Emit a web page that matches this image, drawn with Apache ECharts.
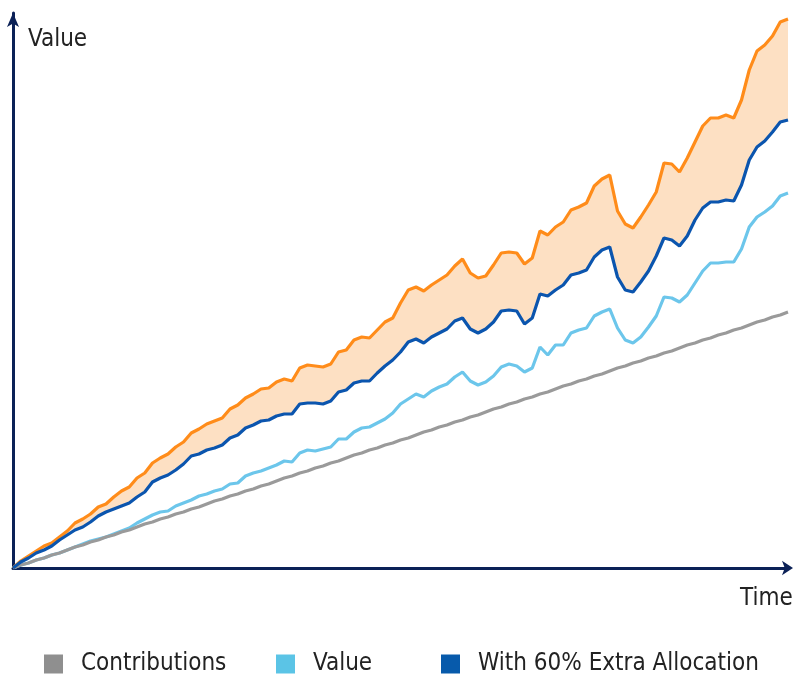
<!DOCTYPE html>
<html>
<head>
<meta charset="utf-8">
<title>Value over time</title>
<script src="https://cdn.jsdelivr.net/npm/echarts@6/dist/echarts.min.js"></script>
<style>
  html, body { margin: 0; padding: 0; background: #fff; }
  #chart { width: 799px; height: 674px; }
</style>
</head>
<body>
<div id="chart"></div>
<script>
// values (same arbitrary unit for every series)
const contributions = [0, 3, 5, 8, 10, 13, 15, 18, 21, 23, 26, 28, 31, 33, 36, 38, 41, 44, 46, 49,
  51, 54, 56, 59, 61, 64, 67, 69, 72, 74, 77, 79, 82, 84, 87, 90, 92, 95, 97, 100,
  102, 105, 107, 110, 113, 115, 118, 120, 123, 125, 128, 130, 133, 136, 138, 141, 143, 146, 148, 151,
  153, 156, 159, 161, 164, 166, 169, 171, 174, 176, 179, 182, 184, 187, 189, 192, 194, 197, 200, 202,
  205, 207, 210, 212, 215, 217, 220, 223, 225, 228, 230, 233, 235, 238, 240, 243, 246, 248, 251, 253, 256];

const value = [0, 3, 5, 8, 10, 13, 15, 18, 21, 24, 27, 29, 31, 34, 37, 40, 45, 49, 53, 56,
  57, 62, 65, 68, 72, 74, 77, 79, 84, 85, 92, 95, 97, 100, 103, 107, 106, 115, 118, 117,
  119, 121, 129, 129, 136, 140, 141, 145, 149, 155, 164, 169, 174, 171, 177, 181, 184, 191, 196, 187,
  183, 186, 192, 201, 204, 202, 196, 200, 221, 213, 223, 223, 235, 238, 240, 252, 256, 259, 240, 228,
  225, 231, 241, 252, 271, 270, 266, 273, 285, 297, 305, 305, 306, 306, 319, 341, 351, 356, 362, 372, 375];

const extraAllocation = [0, 6, 10, 15, 18, 22, 28, 33, 38, 41, 46, 52, 56, 59, 62, 65, 71, 76, 86, 90,
  93, 98, 104, 112, 114, 118, 120, 123, 130, 133, 140, 143, 147, 148, 152, 154, 154, 164, 165, 165,
  164, 167, 176, 178, 185, 187, 187, 195, 202, 208, 216, 226, 229, 225, 231, 235, 239, 247, 250, 239,
  235, 239, 246, 257, 258, 257, 244, 250, 274, 272, 278, 283, 293, 295, 298, 311, 318, 321, 291, 278,
  276, 286, 297, 312, 330, 328, 322, 332, 348, 360, 366, 366, 368, 367, 383, 408, 421, 427, 436, 446, 448];

const upperRange = [0, 7, 12, 17, 22, 25, 31, 37, 45, 49, 54, 61, 64, 71, 77, 81, 90, 95, 105, 110,
  114, 121, 126, 135, 139, 144, 147, 150, 159, 163, 170, 174, 179, 180, 186, 189, 187, 200, 203, 202,
  201, 204, 216, 218, 228, 231, 230, 238, 246, 250, 265, 278, 281, 277, 283, 288, 293, 302, 309, 295,
  290, 292, 303, 315, 316, 315, 304, 310, 337, 333, 341, 346, 358, 361, 365, 382, 389, 393, 357, 344,
  340, 351, 363, 376, 405, 404, 396, 410, 426, 442, 450, 450, 453, 450, 468, 498, 517, 523, 532, 546, 549];

const periods = contributions.map((v, i) => i);

const FONT = '"DejaVu Sans Condensed", "DejaVu Sans", sans-serif';
const AXIS_COLOR = '#0b2157';

// band between the two blue scenarios is stacked on top of the dark blue line
const bandWidth = upperRange.map((v, i) => v - extraAllocation[i]);

const chart = echarts.init(document.getElementById('chart'));

const legendBase = {
  top: 652,
  padding: 0,
  icon: 'rect',
  itemWidth: 19,
  itemHeight: 19,
  selectedMode: false,
  textStyle: { fontFamily: FONT, fontSize: 24, color: '#222', padding: [0, 0, 0, 13] }
};

const option = {
  animation: false,
  backgroundColor: '#fff',
  grid: { left: 13, right: 11, top: 13, bottom: 106 },
  legend: [
    Object.assign({}, legendBase, { left: 44, data: ['Contributions'] }),
    Object.assign({}, legendBase, { left: 276, data: ['Value'] }),
    Object.assign({}, legendBase, { left: 441, data: ['With 60% Extra Allocation'] })
  ],
  graphic: [
    { type: 'text', left: 28, top: 28, style: { text: 'Value', font: '24px ' + FONT, fill: '#222' } },
    { type: 'text', left: 740, top: 587, style: { text: 'Time', font: '24px ' + FONT, fill: '#222' } }
  ],
  xAxis: {
    type: 'category',
    data: periods,
    boundaryGap: false,
    axisLine: {
      show: true,
      symbol: ['none', 'arrow'],
      symbolSize: [11, 11],
      symbolOffset: [0, 5],
      lineStyle: { color: AXIS_COLOR, width: 3 }
    },
    axisTick: { show: false },
    axisLabel: { show: false },
    splitLine: { show: false }
  },
  yAxis: {
    type: 'value',
    min: 0,
    max: 555,
    axisLine: {
      show: true,
      symbol: ['none', 'arrow'],
      symbolSize: [9, 14],
      lineStyle: { color: AXIS_COLOR, width: 3 }
    },
    axisTick: { show: false },
    axisLabel: { show: false },
    splitLine: { show: false }
  },
  series: [
    {
      name: 'Value',
      type: 'line',
      data: value,
      showSymbol: false,
      itemStyle: { color: '#5bc4e6' },
      lineStyle: { color: '#6cc6eb', width: 3.2 },
      z: 2
    },
    {
      name: 'Contributions',
      type: 'line',
      data: contributions,
      showSymbol: false,
      itemStyle: { color: '#8f8f8f' },
      lineStyle: { color: '#9a9a9a', width: 3.2 },
      z: 2
    },
    {
      name: 'With 60% Extra Allocation',
      type: 'line',
      stack: 'band',
      data: extraAllocation,
      showSymbol: false,
      itemStyle: { color: '#075aab' },
      lineStyle: { color: '#0b55ae', width: 3.2 },
      z: 4
    },
    {
      name: 'Upper',
      type: 'line',
      stack: 'band',
      data: bandWidth,
      showSymbol: false,
      itemStyle: { color: '#ff8c1a' },
      lineStyle: { color: '#ff8c1a', width: 3.2 },
      areaStyle: { color: '#fde0c3', opacity: 1 },
      z: 3
    }
  ]
};

chart.setOption(option);
</script>
</body>
</html>
